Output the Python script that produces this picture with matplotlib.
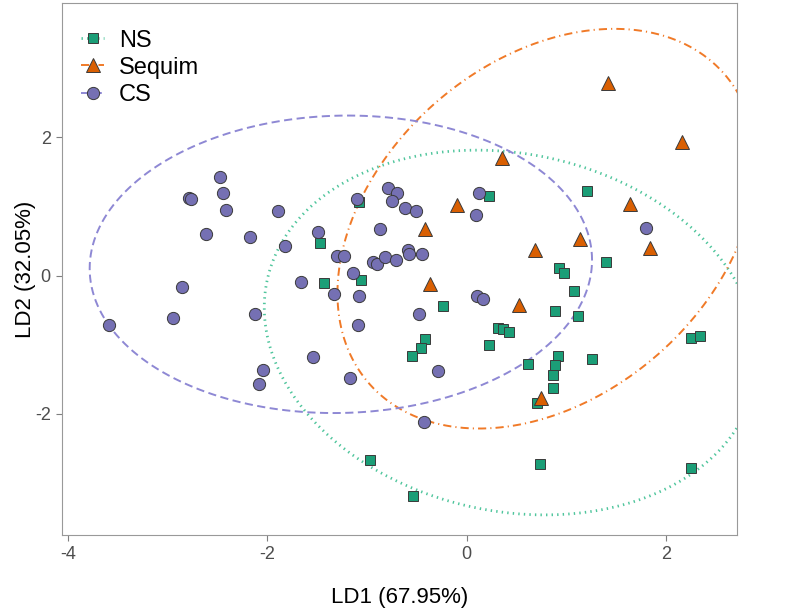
import numpy as np
import matplotlib
matplotlib.use('Agg')
import matplotlib.pyplot as plt

plt.rcParams['font.family'] = ['Liberation Sans', 'DejaVu Sans']
plt.rcParams['axes.unicode_minus'] = False

# LD scores
ns_x = [-1.08, -1.47, -1.43, -1.06, 0.23, 1.21, 1.40, 0.93, 0.98, 1.08, 0.89, 1.12,
        -0.24, 0.32, 0.37, 0.43, 0.23, -0.42, -0.46, -0.55, 0.62, 0.92, 0.89, 0.87,
        0.87, 1.26, 0.71, 2.25, 2.34, -0.97, 0.74, 2.25, -0.54]
ns_y = [1.06, 0.47, -0.11, -0.06, 1.15, 1.22, 0.19, 0.11, 0.04, -0.22, -0.51, -0.59,
        -0.44, -0.76, -0.77, -0.82, -1.00, -0.92, -1.05, -1.17, -1.28, -1.16, -1.30, -1.44,
        -1.62, -1.21, -1.84, -0.91, -0.88, -2.67, -2.73, -2.78, -3.19]

seq_x = [1.42, 2.16, 0.36, -0.10, 1.64, -0.42, 1.14, 0.69, 1.84, -0.37, 0.53, 0.75]
seq_y = [2.78, 1.93, 1.70, 1.02, 1.04, 0.68, 0.53, 0.37, 0.40, -0.12, -0.43, -1.77]

cs_x = [-2.47, -2.78, -2.76, -2.44, -2.41, -1.89, -2.61, -2.17, -1.82, -1.49, -1.10, -1.30,
        -1.23, -0.79, -0.70, -0.75, -0.87, -0.94, -0.90, -0.82, -0.71, -0.59, -0.58, -0.45,
        -0.62, -0.51, 0.12, 0.09, 1.80, -1.14, -1.66, -1.33, -1.08, -0.48, -1.09, -3.59,
        -2.85, -2.95, -2.12, -1.54, -2.04, -2.08, -1.17, 0.10, 0.16, -0.29, -0.43]
cs_y = [1.43, 1.12, 1.11, 1.20, 0.95, 0.94, 0.60, 0.56, 0.42, 0.63, 1.10, 0.28,
        0.28, 1.26, 1.19, 1.08, 0.68, 0.19, 0.17, 0.27, 0.23, 0.37, 0.31, 0.31,
        0.97, 0.94, 1.19, 0.87, 0.69, 0.04, -0.10, -0.27, -0.29, -0.56, -0.71, -0.72,
        -0.17, -0.62, -0.56, -1.18, -1.37, -1.57, -1.48, -0.30, -0.34, -1.38, -2.12]

groups = ['NS', 'Sequim', 'CS']
xs = [ns_x, seq_x, cs_x]
ys = [ns_y, seq_y, cs_y]
fills = ['#1b9e77', '#d95f02', '#7570b3']
line_cols = ['#4fc59c', '#f07a28', '#8e88d4']
markers = ['s', '^', 'o']
msizes = [7.6, 10.5, 8.8]
lwidths = [2.0, 1.4, 1.4]
lstyles = [(0, (0.5, 1.5)), (0, (4.2, 2.1, 0.6, 2.1)), (0, (4.2, 2.3))]


def ellipse(xv, yv, level=0.95, segments=200):
    # normal-theory 95% data ellipse
    pts = np.column_stack([xv, yv])
    loc = pts.mean(axis=0)
    cov = np.cov(pts.T)
    radius = np.sqrt(-2 * np.log(1 - level))
    t = np.linspace(0, 2 * np.pi, segments + 1)
    circ = np.column_stack([np.cos(t), np.sin(t)])
    e = loc + radius * circ @ np.linalg.cholesky(cov).T
    return e[:, 0], e[:, 1]


fig = plt.figure(figsize=(7.93, 6.12), dpi=100)
ax = fig.add_axes([0.078, 0.126, 0.851, 0.869])

for g, x, y, fc, lc, m, ms, lw, ls in zip(groups, xs, ys, fills, line_cols, markers,
                                           msizes, lwidths, lstyles):
    ex, ey = ellipse(x, y)
    ax.plot(ex, ey, color=lc, lw=lw, linestyle=ls, zorder=2)
    ax.plot(x, y, linestyle='none', marker=m, ms=ms, mfc=fc, mec='#3a3a3a', mew=0.7, zorder=3)
    # legend handle
    ax.plot([], [], color=lc, lw=lw, linestyle=ls, marker=m, ms=ms, mfc=fc,
            mec='#3a3a3a', mew=0.7, label=g)

ax.set_xlim(-4.06, 2.71)
ax.set_ylim(-3.75, 3.94)
ax.set_xticks([-4, -2, 0, 2])
ax.set_yticks([-2, 0, 2])
ax.tick_params(colors='#7f7f7f', labelsize=13, length=4, width=0.8, labelcolor='#4d4d4d',
               pad=4)
for s in ax.spines.values():
    s.set_color('#999999')
    s.set_linewidth(0.8)
ax.set_xlabel('LD1 (67.95%)', fontsize=16, color='black', labelpad=17)
ax.set_ylabel('LD2 (32.05%)', fontsize=16, color='black', labelpad=-1)

leg = ax.legend(loc='upper left', bbox_to_anchor=(0.015, 0.968), borderaxespad=0,
                frameon=False, fontsize=17, handlelength=0.95, labelspacing=0.22,
                handletextpad=0.65)

fig.savefig('out.png', dpi=100)
